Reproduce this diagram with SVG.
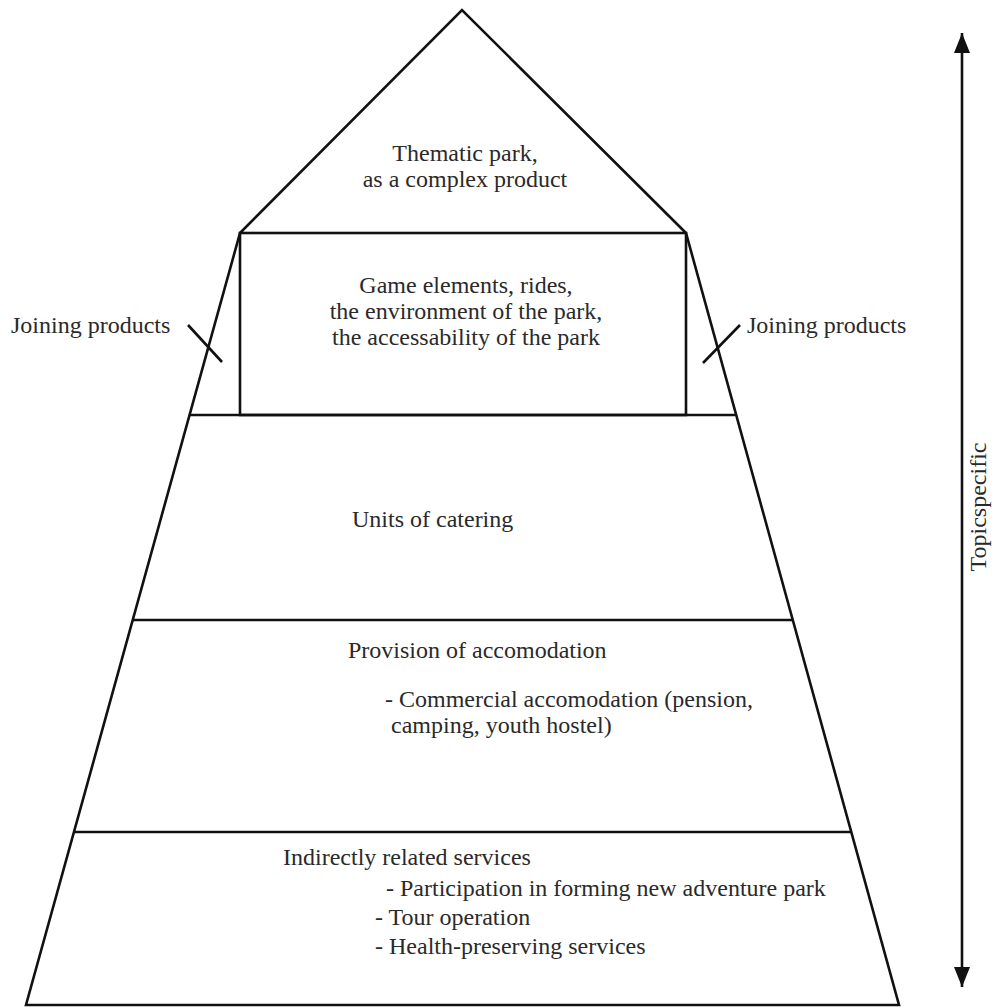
<svg xmlns="http://www.w3.org/2000/svg" width="995" height="1007" viewBox="0 0 995 1007">
<defs>
<style>
.ln{stroke:#111;stroke-width:2.6;fill:none;stroke-linejoin:miter}
.t{font-family:"Liberation Serif","Times New Roman",serif;font-size:24px;fill:#2a2a2a}
.c{text-anchor:middle}
</style>
<marker id="ah" viewBox="0 0 10 10" refX="10" refY="5" markerWidth="6" markerHeight="8" markerUnits="userSpaceOnUse" orient="auto-start-reverse">
<path d="M0,0 L10,5 L0,10 z" fill="#111"/>
</marker>
<marker id="ah2" viewBox="0 0 20 16" refX="20" refY="8" markerWidth="20" markerHeight="16" markerUnits="userSpaceOnUse" orient="auto-start-reverse">
<path d="M0,0 L20,8 L0,16 z" fill="#111"/>
</marker>
</defs>
<rect width="995" height="1007" fill="#fff"/>
<g id="pyramid">
<path class="ln" d="M240,233 L462,10 L686,233 L899,1005 L26,1005 Z"/>
</g>
<g id="roof">
<text class="t c" x="465" y="161">Thematic park,</text>
<text class="t c" x="465" y="187">as a complex product</text>
</g>
<g id="core">
<rect class="ln" x="240" y="233" width="446" height="182"/>
<text class="t c" x="466" y="293">Game elements, rides,</text>
<text class="t c" x="466" y="319">the environment of the park,</text>
<text class="t c" x="466" y="345">the accessability of the park</text>
</g>
<g id="catering">
<line class="ln" x1="190" y1="415" x2="735" y2="415"/>
<text class="t" x="352" y="527">Units of catering</text>
</g>
<g id="accommodation">
<line class="ln" x1="133" y1="620" x2="793" y2="620"/>
<text class="t" x="348" y="658">Provision of accomodation</text>
<text class="t" x="385" y="707">- Commercial accomodation (pension,</text>
<text class="t" x="391" y="733">camping, youth hostel)</text>
</g>
<g id="indirect">
<line class="ln" x1="74" y1="832" x2="852" y2="832"/>
<text class="t" x="283" y="865">Indirectly related services</text>
<text class="t" x="386" y="896">- Participation in forming new adventure park</text>
<text class="t" x="375" y="925">- Tour operation</text>
<text class="t" x="375" y="954">- Health-preserving services</text>
</g>
<g id="joining-left">
<text class="t" x="11" y="333">Joining products</text>
</g>
<g id="joining-right">
<text class="t" x="747" y="333">Joining products</text>
</g>
<g id="axis">
<text class="t c" transform="translate(986,507) rotate(-90)">Topicspecific</text>
</g>
<g id="connectors">
<line class="ln" x1="188" y1="325" x2="222" y2="362"/>
<line class="ln" x1="740" y1="325" x2="703" y2="363"/>
<line class="ln" x1="962" y1="33" x2="962" y2="987" marker-start="url(#ah2)" marker-end="url(#ah2)"/>
</g>
</svg>
